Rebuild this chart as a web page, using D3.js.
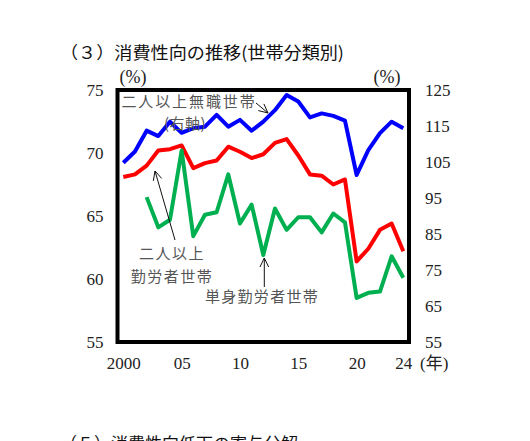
<!DOCTYPE html>
<html>
<head>
<meta charset="utf-8">
<script src="https://cdn.jsdelivr.net/npm/d3@7"></script>
<style>
  body { margin: 0; background: #fff; }
</style>
</head>
<body>
<script>
const w = 530;
const h = 441;

// data
const years = d3.range(2000, 2025);
// 二人以上無職世帯 (right axis)
const mushoku = [104.8, 107.9, 113.7, 112.2, 116.2, 113.1, 114.4, 114.8, 118.1, 114.8,
                 116.7, 113.7, 116.2, 119.4, 123.6, 121.8, 117.4, 118.5, 117.8, 116.5,
                 101.4, 108.3, 113.0, 116.2, 114.4];
// 二人以上勤労者世帯 (left axis)
const kinrou = [68.1, 68.3, 69.0, 70.2, 70.3, 70.6, 68.8, 69.2, 69.4, 70.5,
                70.1, 69.6, 69.9, 70.8, 71.1, 69.8, 68.3, 68.2, 67.5, 67.9,
                61.4, 62.4, 63.9, 64.4, 62.2];
// 単身勤労者世帯 (left axis), no data before 2002
const tanshin = [null, null, 66.5, 64.1, 64.7, 70.2, 63.4, 65.1, 65.3, 68.3,
                 64.4, 65.9, 61.9, 65.6, 63.9, 64.9, 64.9, 63.7, 65.2, 64.5,
                 58.5, 58.9, 59.0, 61.8, 60.1];

const xTicks = [2000, 2005, 2010, 2015, 2020, 2024];
const leftTicks = [55, 60, 65, 70, 75];
const rightTicks = [55, 65, 75, 85, 95, 105, 115, 125];

const serif = "'Liberation Serif', 'DejaVu Serif', 'Noto Sans CJK JP', serif";
const jp = "'Noto Sans CJK JP', sans-serif";

const frame = {left: 117.5, right: 409, top: 90, bottom: 342};

const svg = d3.select("body")
              .append("svg")
              .attr("width", w)
              .attr("height", h);

const xScale = d3.scaleLinear()
                .domain([2000, 2024])
                .range([123.3, 403.3]);

const yLeft = d3.scaleLinear()
                .domain([55, 75])
                .range([frame.bottom, frame.top]);

const yRight = d3.scaleLinear()
                .domain([55, 125])
                .range([frame.bottom, frame.top]);

// title
svg.append("text")
    .attr("x", 60)
    .attr("y", 59)
    .attr("font-family", jp)
    .attr("font-size", 17)
    .attr("fill", "#111")
    .attr("textLength", 284)
    .attr("lengthAdjust", "spacingAndGlyphs")
    .text("（３）消費性向の推移(世帯分類別)");

// next section title, cut by the bottom of the window
svg.append("text")
    .attr("x", 60)
    .attr("y", 450)
    .attr("font-family", jp)
    .attr("font-size", 17)
    .attr("fill", "#111")
    .text("（５）消費性向低下の寄与分解");

// lines
const line = (yS) => d3.line()
    .defined((d) => d != null)
    .x((d, i) => xScale(years[i]))
    .y((d) => yS(d));

const series = [
    {values: mushoku, scale: yRight, color: "#0000ff"},
    {values: kinrou, scale: yLeft, color: "#ff0000"},
    {values: tanshin, scale: yLeft, color: "#00b050"}
];

svg.selectAll("path.series")
    .data(series)
    .enter()
    .append("path")
    .attr("class", "series")
    .attr("d", (s) => line(s.scale)(s.values))
    .attr("fill", "none")
    .attr("stroke", (s) => s.color)
    .attr("stroke-width", 4)
    .attr("stroke-linejoin", "round");

// frame
svg.append("rect")
    .attr("x", frame.left)
    .attr("y", frame.top)
    .attr("width", frame.right - frame.left)
    .attr("height", frame.bottom - frame.top)
    .attr("fill", "none")
    .attr("stroke", "#000")
    .attr("stroke-width", 4);

// axes
const xAxis = d3.axisBottom(xScale)
    .tickValues(xTicks)
    .tickSize(0)
    .tickPadding(15)
    .tickFormat((d) => d == 2000 ? "2000" : d3.format("02d")(d % 100));

const gx = svg.append("g")
    .attr("transform", "translate(0," + frame.bottom + ")")
    .call(xAxis);

const gl = svg.append("g")
    .attr("transform", "translate(" + frame.left + ",0)")
    .call(d3.axisLeft(yLeft).tickValues(leftTicks).tickSize(0).tickPadding(14));

const gr = svg.append("g")
    .attr("transform", "translate(" + frame.right + ",0)")
    .call(d3.axisRight(yRight).tickValues(rightTicks).tickSize(0).tickPadding(16));

[gx, gl, gr].forEach((g) => {
    g.select(".domain").remove();
    g.selectAll("text")
        .attr("font-family", serif)
        .attr("font-size", 17)
        .attr("fill", "#222");
});

// unit labels
svg.append("text")
    .attr("x", 133).attr("y", 83)
    .attr("text-anchor", "middle")
    .attr("font-family", serif).attr("font-size", 18).attr("fill", "#222")
    .text("(%)");

svg.append("text")
    .attr("x", 387).attr("y", 83)
    .attr("text-anchor", "middle")
    .attr("font-family", serif).attr("font-size", 18).attr("fill", "#222")
    .text("(%)");

svg.append("text")
    .attr("x", 420).attr("y", 369)
    .attr("font-family", serif).attr("font-size", 17).attr("fill", "#222")
    .text("(年)");

// annotations
const notes = [
    {text: "二人以上無職世帯", x: 189, y: 107, ls: 1.9},
    {text: "(右軸)", x: 185, y: 129, ls: 0.5},
    {text: "二人以上", x: 172, y: 259, ls: 1.5},
    {text: "勤労者世帯", x: 172, y: 282, ls: 1.5},
    {text: "単身勤労者世帯", x: 262, y: 302, ls: 1.3}
];

svg.selectAll("text.note")
    .data(notes)
    .enter()
    .append("text")
    .attr("class", "note")
    .attr("x", (d) => d.x)
    .attr("y", (d) => d.y)
    .attr("text-anchor", "middle")
    .attr("font-family", jp)
    .attr("font-size", 15)
    .attr("letter-spacing", (d) => d.ls)
    .attr("fill", "#555")
    .text((d) => d.text);

// arrows: [from, to], head at "to"
const arrows = [
    [[256, 103], [268, 113]],
    [[175, 240], [155, 171]],
    [[264.3, 287], [264.3, 258]]
];

const arrowPath = (a) => {
    const [x0, y0] = a[0];
    const [x1, y1] = a[1];
    const ang = Math.atan2(y0 - y1, x0 - x1);
    const len = 10;
    const spread = 0.45;
    const p1 = [x1 + len * Math.cos(ang + spread), y1 + len * Math.sin(ang + spread)];
    const p2 = [x1 + len * Math.cos(ang - spread), y1 + len * Math.sin(ang - spread)];
    return "M" + x0 + "," + y0 + "L" + x1 + "," + y1 +
           "M" + p1 + "L" + x1 + "," + y1 + "L" + p2;
};

svg.selectAll("path.arrow")
    .data(arrows)
    .enter()
    .append("path")
    .attr("class", "arrow")
    .attr("d", arrowPath)
    .attr("fill", "none")
    .attr("stroke", "#111")
    .attr("stroke-width", 1);
</script>
</body>
</html>
